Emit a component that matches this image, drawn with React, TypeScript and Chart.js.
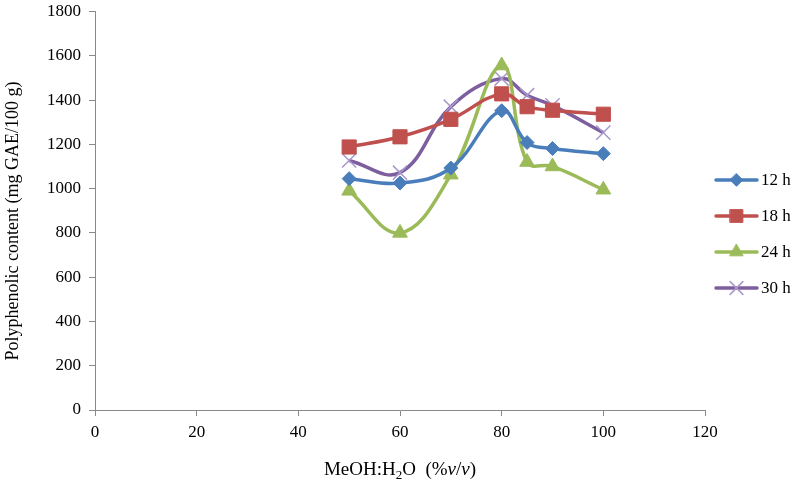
import React, { useEffect, useRef } from "react";
import { Chart, registerables } from "chart.js";

Chart.register(...registerables);

const methanolPct = [50, 60, 70, 80, 85, 90, 100];
const series12h = [1045, 1025, 1093, 1352, 1208, 1181, 1158];
const series18h = [1188, 1234, 1313, 1428, 1370, 1354, 1336];
const series24h = [990, 800, 1063, 1556, 1120, 1100, 995];
const series30h = [1127, 1072, 1370, 1497, 1422, 1376, 1253];
const seriesNames = ["12 h", "18 h", "24 h", "30 h"];
const yTicks = [0, 200, 400, 600, 800, 1000, 1200, 1400, 1600, 1800];
const xTicks = [0, 20, 40, 60, 80, 100, 120];

const FONT = "'Liberation Serif', 'Times New Roman', serif";
const AXIS = "#898989";

const styles = [
  { color: "#4A7EBB", marker: "rectRot", radius: 7, mColor: "#4A7EBB", mWidth: 1 },
  { color: "#C0504D", marker: "rect", radius: 10, mColor: "#C0504D", mWidth: 1 },
  { color: "#9BBB59", marker: "triangle", radius: 8.5, mColor: "#9BBB59", mWidth: 1 },
  { color: "#7D5FA0", marker: "crossRot", radius: 10, mColor: "#A996CC", mWidth: 1.5 },
];

function drawMarker(ctx: CanvasRenderingContext2D, kind: string, x: number, y: number, r: number, color: string, lw: number) {
  ctx.save();
  ctx.fillStyle = color;
  ctx.strokeStyle = color;
  ctx.lineWidth = lw;
  ctx.beginPath();
  if (kind === "rectRot") {
    ctx.moveTo(x, y - r);
    ctx.lineTo(x + r, y);
    ctx.lineTo(x, y + r);
    ctx.lineTo(x - r, y);
    ctx.closePath();
    ctx.fill();
    ctx.stroke();
  } else if (kind === "rect") {
    const s = Math.SQRT1_2 * r;
    ctx.rect(x - s, y - s, 2 * s, 2 * s);
    ctx.fill();
    ctx.stroke();
  } else if (kind === "triangle") {
    for (let k = 0; k < 3; k++) {
      const a = -Math.PI / 2 + (k * 2 * Math.PI) / 3;
      const px = x + Math.cos(a) * r;
      const py = y + Math.sin(a) * r;
      if (k === 0) ctx.moveTo(px, py);
      else ctx.lineTo(px, py);
    }
    ctx.closePath();
    ctx.fill();
    ctx.stroke();
  } else {
    const d = Math.SQRT1_2 * r;
    ctx.moveTo(x - d, y - d);
    ctx.lineTo(x + d, y + d);
    ctx.moveTo(x + d, y - d);
    ctx.lineTo(x - d, y + d);
    ctx.stroke();
  }
  ctx.restore();
}

const decorPlugin = {
  id: "decor",
  afterDraw(chart: any) {
    const ctx: CanvasRenderingContext2D = chart.ctx;
    const area = chart.chartArea;
    ctx.save();
    ctx.fillStyle = "#000";
    // Y title
    ctx.font = `18px ${FONT}`;
    ctx.textAlign = "center";
    ctx.textBaseline = "middle";
    ctx.translate(13, 221);
    ctx.rotate(-Math.PI / 2);
    ctx.fillText("Polyphenolic content (mg GAE/100 g)", 0, 0);
    ctx.restore();

    // X title with subscript and italics
    ctx.save();
    ctx.fillStyle = "#000";
    ctx.textBaseline = "alphabetic";
    ctx.textAlign = "left";
    const segs = [
      { t: "MeOH:H", f: `19px ${FONT}`, dy: 0 },
      { t: "2", f: `13px ${FONT}`, dy: 4 },
      { t: "O  (%", f: `19px ${FONT}`, dy: 0 },
      { t: "v", f: `italic 19px ${FONT}`, dy: 0 },
      { t: "/", f: `19px ${FONT}`, dy: 0 },
      { t: "v", f: `italic 19px ${FONT}`, dy: 0 },
      { t: ")", f: `19px ${FONT}`, dy: 0 },
    ];
    let total = 0;
    for (const s of segs) {
      ctx.font = s.f;
      total += ctx.measureText(s.t).width;
    }
    let x = (area.left + area.right) / 2 - total / 2;
    const base = 475;
    for (const s of segs) {
      ctx.font = s.f;
      ctx.fillText(s.t, x, base + s.dy);
      x += ctx.measureText(s.t).width;
    }
    ctx.restore();

    // Legend
    ctx.save();
    chart.data.datasets.forEach((ds: any, i: number) => {
      const st = styles[i];
      const y = 180 + 36 * i;
      ctx.strokeStyle = st.color;
      ctx.lineWidth = 3.5;
      ctx.lineCap = "round";
      ctx.beginPath();
      ctx.moveTo(716, y);
      ctx.lineTo(757, y);
      ctx.stroke();
      drawMarker(ctx, st.marker, 736.5, y, st.radius * 0.9, st.mColor, st.mWidth);
      ctx.fillStyle = "#000";
      ctx.font = `17px ${FONT}`;
      ctx.textAlign = "left";
      ctx.textBaseline = "middle";
      ctx.fillText(ds.label, 761, y + 1);
    });
    ctx.restore();
  },
};

export default function App() {
  const ref = useRef<HTMLCanvasElement | null>(null);

  useEffect(() => {
    if (!ref.current) return;
    const all = [series12h, series18h, series24h, series30h];
    const chart = new Chart(ref.current, {
      type: "line",
      data: {
        datasets: all.map((vals, i) => ({
          label: seriesNames[i],
          data: methanolPct.map((x, j) => ({ x, y: vals[j] })),
          borderColor: styles[i].color,
          backgroundColor: styles[i].mColor,
          borderWidth: 3.5,
          tension: 0.4,
          pointStyle: styles[i].marker as any,
          pointRadius: styles[i].radius,
          pointBackgroundColor: styles[i].mColor,
          pointBorderColor: styles[i].mColor,
          pointBorderWidth: styles[i].mWidth,
          fill: false,
        })),
      },
      options: {
        animation: false,
        responsive: false,
        layout: { padding: { top: 7, right: 91, left: 0, bottom: 0 } },
        plugins: { legend: { display: false }, tooltip: { enabled: false }, title: { display: false } },
        scales: {
          x: {
            type: "linear",
            min: 0,
            max: 120,
            afterFit: (s: any) => { s.height = 73; s.paddingLeft = 0; s.paddingRight = 0; },
            afterBuildTicks: (s: any) => { s.ticks = xTicks.map((v) => ({ value: v })); },
            ticks: { font: { family: FONT, size: 17 }, color: "#000", padding: 6, maxRotation: 0, callback: (v: any) => String(v) },
            grid: { display: true, drawOnChartArea: false, drawTicks: true, tickLength: 6, color: AXIS },
            border: { color: AXIS, width: 1 },
          },
          y: {
            type: "linear",
            min: 0,
            max: 1800,
            afterFit: (s: any) => { s.width = 95; s.paddingTop = 0; s.paddingBottom = 0; },
            afterBuildTicks: (s: any) => { s.ticks = yTicks.map((v) => ({ value: v })); },
            ticks: { font: { family: FONT, size: 17 }, color: "#000", padding: 8, callback: (v: any) => String(v) },
            grid: { display: true, drawOnChartArea: false, drawTicks: true, tickLength: 6, color: AXIS },
            border: { color: AXIS, width: 1 },
          },
        },
      },
      plugins: [decorPlugin],
    });
    return () => chart.destroy();
  }, []);

  return (
    <div style={{ position: "fixed", left: 0, top: 0, width: 796, height: 483, background: "#fff" }}>
      <canvas ref={ref} width={796} height={483} style={{ display: "block" }} />
    </div>
  );
}
